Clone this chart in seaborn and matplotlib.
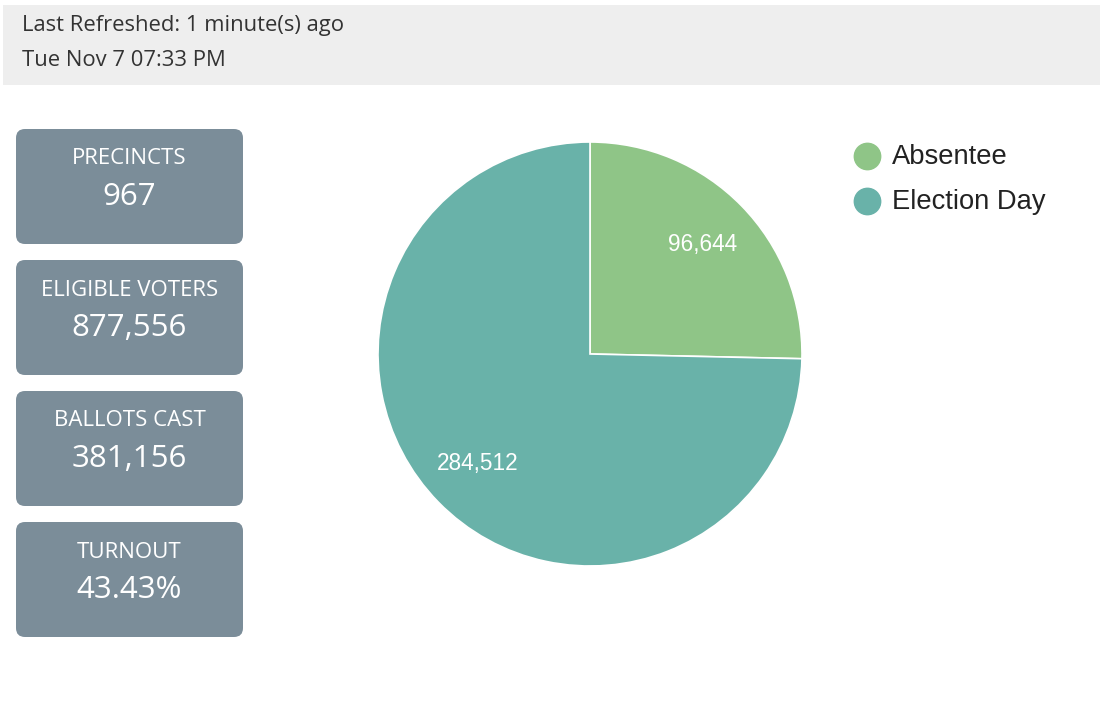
import matplotlib
matplotlib.use("Agg")
import matplotlib.pyplot as plt
from matplotlib.patches import FancyBboxPatch, Rectangle
import seaborn as sns

# ---- data ----
refreshed_text = "Last Refreshed: 1 minute(s) ago"
timestamp_text = "Tue Nov 7 07:33 PM"
stat_labels = ["PRECINCTS", "ELIGIBLE VOTERS", "BALLOTS CAST", "TURNOUT"]
stat_values = ["967", "877,556", "381,156", "43.43%"]
categories = ["Absentee", "Election Day"]
ballots = [96644, 284512]
colors = ["#8fc587", "#69b2a9"]

sns.set_theme(style="white")
plt.rcParams["font.family"] = ["Open Sans", "DejaVu Sans"]

W, H = 1100, 712
fig = plt.figure(figsize=(W / 100, H / 100), dpi=100)
fig.patch.set_facecolor("white")

# overlay axes in pixel coordinates
ov = fig.add_axes([0, 0, 1, 1])
ov.set_xlim(0, W)
ov.set_ylim(H, 0)
ov.axis("off")

# header bar
ov.add_patch(Rectangle((3, 5), W - 3, 80, facecolor="#eeeeee", edgecolor="none"))
ov.text(22, 26, refreshed_text, fontsize=15.8, color="#333333", va="center", ha="left")
ov.text(22, 60, timestamp_text, fontsize=15.8, color="#333333", va="center", ha="left")

# stat boxes
box_tops = [129, 260, 391, 522]
for top, lab, val in zip(box_tops, stat_labels, stat_values):
    ov.add_patch(FancyBboxPatch((16, top), 227, 115,
                                boxstyle="round,pad=0,rounding_size=9",
                                facecolor="#7b8d99", edgecolor="none"))
    ov.text(129.5, top + 30, lab, fontsize=16, color="white", ha="center", va="center")
    ov.text(129.5, top + 68, val, fontsize=22.5, color="white", ha="center", va="center")

# pie
pax = fig.add_axes([378 / W, (H - 566) / H, 424 / W, 424 / H])
total = sum(ballots)
wedges, texts, autotexts = pax.pie(
    ballots, colors=colors, startangle=90, counterclock=False, radius=1,
    autopct=lambda p: f"{p * total / 100:,.0f}", pctdistance=0.74,
    wedgeprops=dict(edgecolor="white", linewidth=1.2),
    textprops=dict(color="white", fontsize=16.3, family=["Liberation Sans", "DejaVu Sans"]))
pax.set_xlim(-1, 1)
pax.set_ylim(-1, 1)
pax.set_aspect("equal")
pax.axis("off")

# legend (circle markers + labels)
legend_y = [156, 201]
for y, c, name in zip(legend_y, colors, categories):
    ov.plot([867], [y], marker="o", markersize=19, markerfacecolor=c,
            markeredgecolor=c, linestyle="none")
    ov.text(892, y + 1, name, fontsize=19.7, color="#222222", ha="left", va="center",
            family=["Liberation Sans", "DejaVu Sans"])

fig.savefig("out.png", dpi=100)
